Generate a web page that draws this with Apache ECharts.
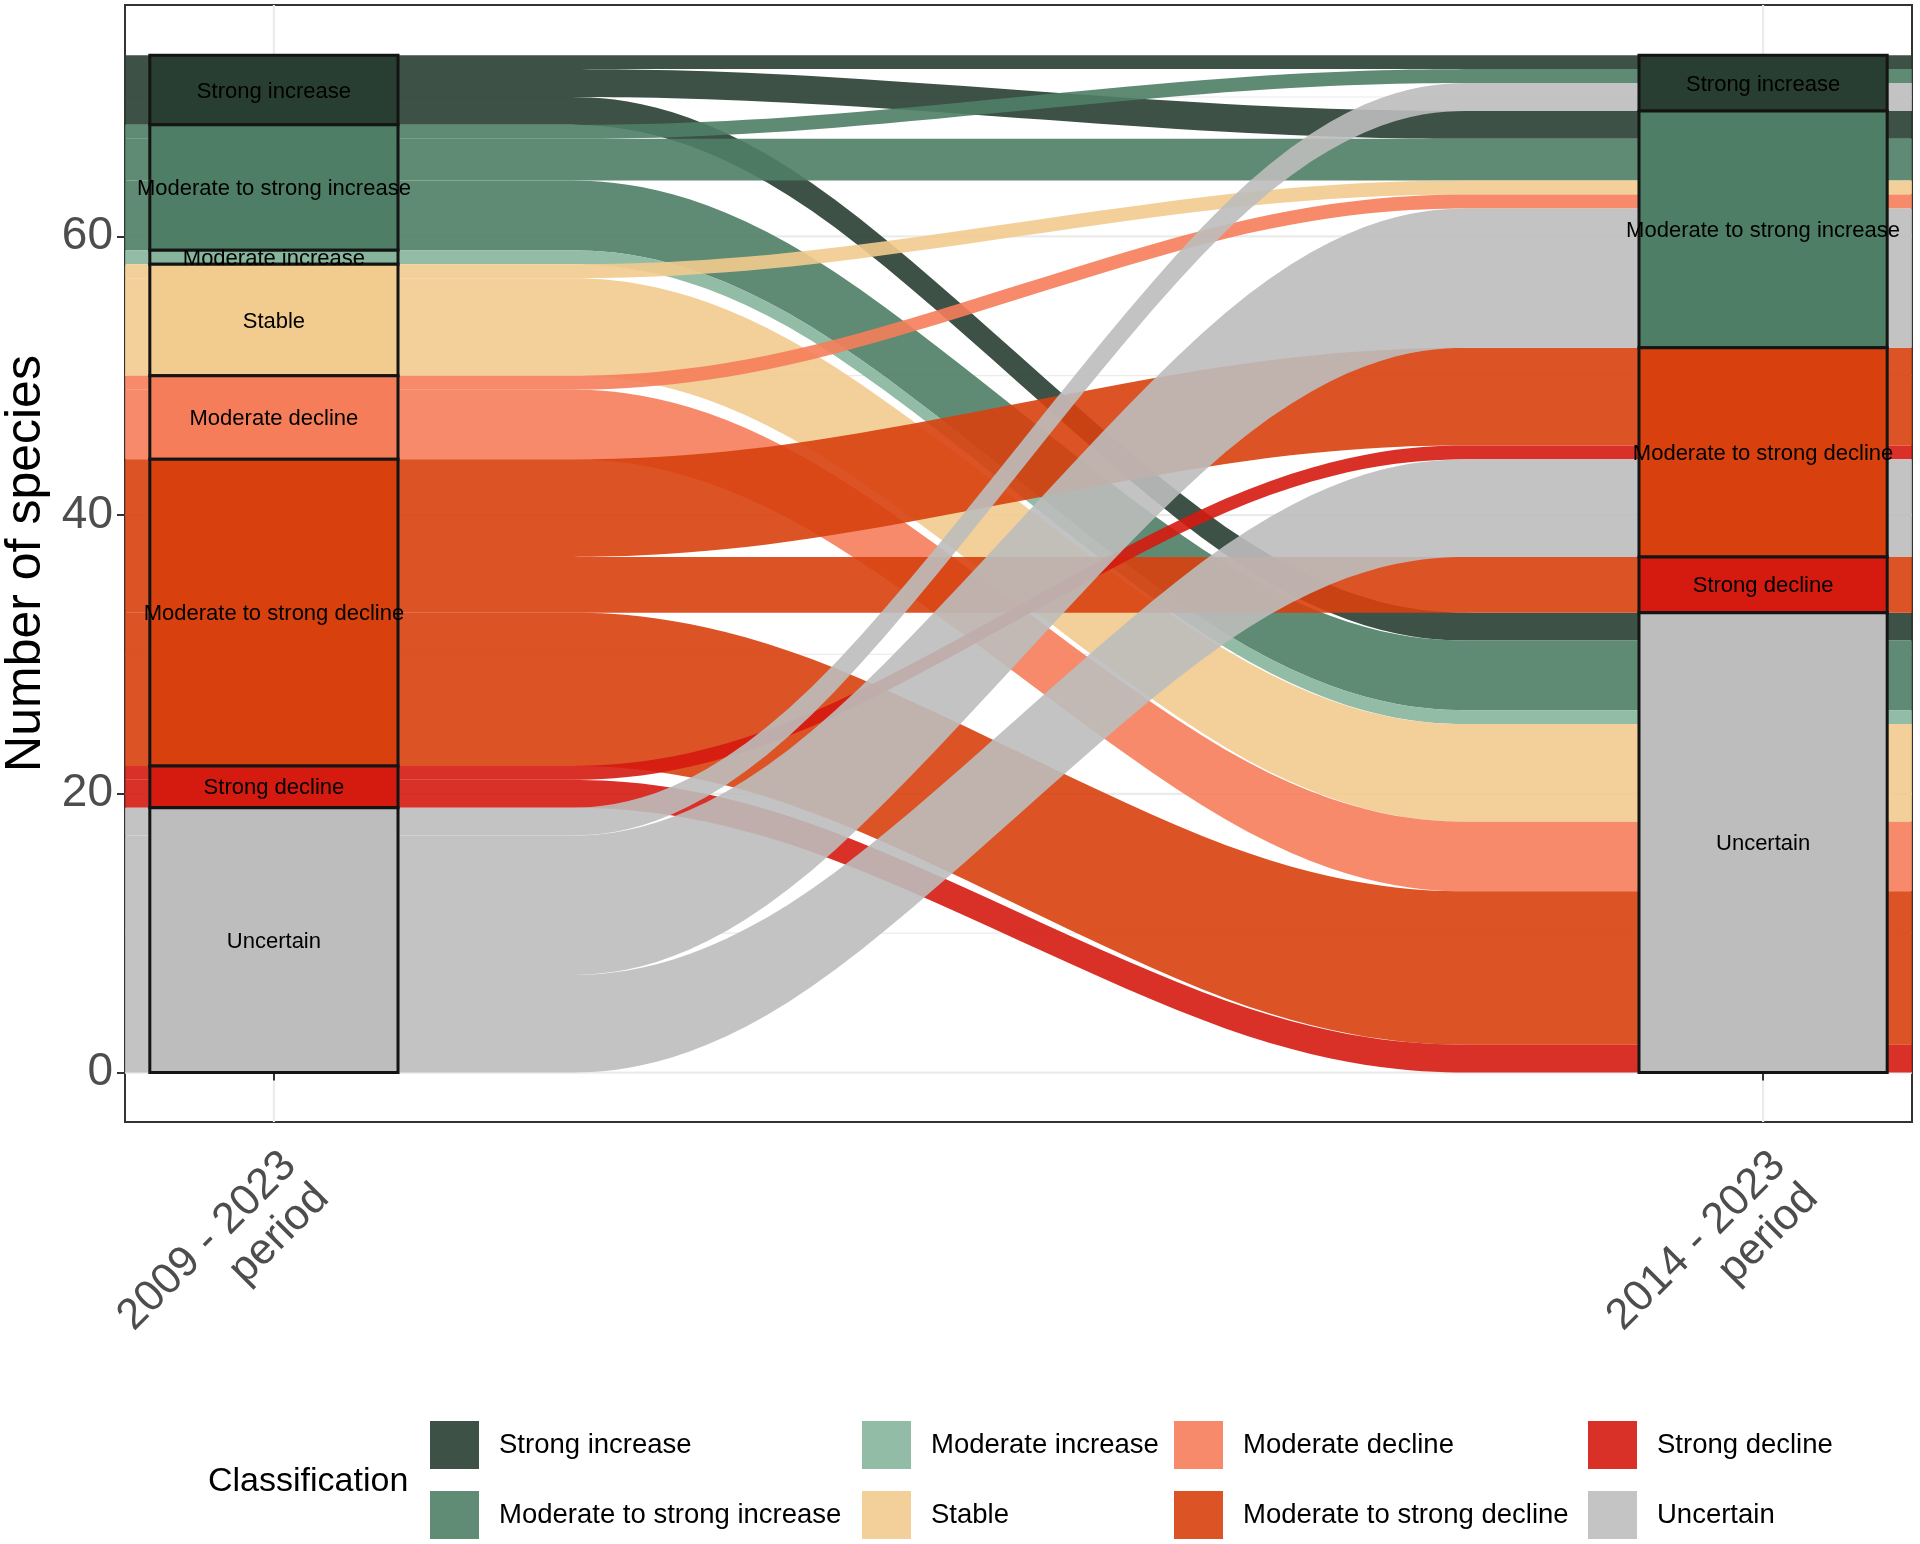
<!DOCTYPE html>
<html>
<head>
<meta charset="utf-8">
<script src="https://cdn.jsdelivr.net/npm/echarts@6/dist/echarts.min.js"></script>
<style>
  html, body { margin: 0; padding: 0; background: #fff; }
  #chart { width: 1920px; height: 1544px; }
</style>
</head>
<body>
<div id="chart"></div>
<script>
// ---------------- data ----------------
const classNames = ['Strong increase', 'Moderate to strong increase', 'Moderate increase', 'Stable',
  'Moderate decline', 'Moderate to strong decline', 'Strong decline', 'Uncertain'];
const classColors = ['#283E32', '#4E7E65', '#86B59C', '#F2CB8E', '#F57D5A', '#D8400E', '#D51A10', '#BDBDBD'];
const periodLabels = ['2009 - 2023\nperiod', '2014 - 2023\nperiod'];
// flows: class in 2009-2023 period -> class in 2014-2023 period, number of species
const flowFrom  = [0, 0, 0, 1, 1, 1, 2, 3, 3, 4, 4, 5, 5, 5, 6, 6, 7, 7, 7];
const flowTo    = [0, 1, 7, 0, 1, 7, 7, 1, 7, 1, 7, 5, 6, 7, 5, 7, 0, 1, 5];
const flowCount = [1, 2, 2, 1, 3, 5, 1, 1, 7, 1, 5, 7, 4, 11, 1, 2, 2, 10, 7];
const yTickValues = [0, 20, 40, 60];
const yMinorValues = [10, 30, 50, 70];
const xTickValues = [1, 2];

// ---------------- layout helpers ----------------
const FLOW_ALPHA = 0.9;
const ALLUVIUM_W = 1 / 3;
const STRATUM_W = 1 / 6;
const KNOT = 1 / 4;
const total = flowCount.reduce((a, b) => a + b, 0);

function stackSide(keyArr, otherArr) {
  const tot = classNames.map((_, c) => flowCount.reduce((s, v, i) => s + (keyArr[i] === c ? v : 0), 0));
  const strata = [];
  const lodes = new Array(flowCount.length);
  let top = total;
  classNames.forEach((_, c) => {
    if (tot[c] > 0) {
      strata.push({ cls: c, top: top, bottom: top - tot[c] });
      const idx = flowCount.map((_, i) => i).filter(i => keyArr[i] === c)
        .sort((a, b) => otherArr[a] - otherArr[b]);
      let t = top;
      idx.forEach(i => { lodes[i] = [t - flowCount[i], t]; t -= flowCount[i]; });
    }
    top -= tot[c];
  });
  return { strata, lodes };
}
const leftSide = stackSide(flowFrom, flowTo);
const rightSide = stackSide(flowTo, flowFrom);

function bspline(x0, y0, x1, y1) {
  const k = (x1 - x0) * KNOT;
  const P = [[x0, y0], [x0, y0], [x0, y0], [x0 + k, y0], [x1 - k, y1], [x1, y1], [x1, y1], [x1, y1]];
  const pts = [];
  const N = 16;
  for (let s = 0; s < P.length - 3; s++) {
    for (let j = 0; j < N; j++) {
      const t = j / N, t2 = t * t, t3 = t2 * t;
      const b0 = Math.pow(1 - t, 3) / 6, b1 = (3 * t3 - 6 * t2 + 4) / 6,
            b2 = (-3 * t3 + 3 * t2 + 3 * t + 1) / 6, b3 = t3 / 6;
      pts.push([
        b0 * P[s][0] + b1 * P[s + 1][0] + b2 * P[s + 2][0] + b3 * P[s + 3][0],
        b0 * P[s][1] + b1 * P[s + 1][1] + b2 * P[s + 2][1] + b3 * P[s + 3][1]
      ]);
    }
  }
  pts.push([x1, y1]);
  return pts;
}

function blendWhite(hex, a) {
  const n = parseInt(hex.slice(1), 16);
  const r = (n >> 16) & 255, g = (n >> 8) & 255, b = n & 255;
  const f = v => Math.round(a * v + (1 - a) * 255);
  return 'rgb(' + f(r) + ',' + f(g) + ',' + f(b) + ')';
}

const FONT = '"Liberation Sans", Arial, Helvetica, sans-serif';

// ---------------- series ----------------
const series = [];

function gridSeries(values, horizontal, width) {
  return {
    type: 'custom', silent: true, z: 0, clip: true,
    data: values.map(v => [v, v]),
    renderItem(params, api) {
      const cs = params.coordSys;
      const v = api.value(0);
      if (horizontal) {
        const y = api.coord([1.5, v])[1];
        return { type: 'line', shape: { x1: cs.x, y1: y, x2: cs.x + cs.width, y2: y },
          style: { stroke: '#EBEBEB', lineWidth: width } };
      }
      const x = api.coord([v, 0])[0];
      return { type: 'line', shape: { x1: x, y1: cs.y, x2: x, y2: cs.y + cs.height },
        style: { stroke: '#EBEBEB', lineWidth: width } };
    }
  };
}
series.push(gridSeries(yMinorValues, true, 1.2));
series.push(gridSeries(yTickValues, true, 2.2));
series.push(gridSeries(xTickValues, false, 2.2));

classNames.forEach((name, c) => {
  const idx = flowCount.map((_, i) => i).filter(i => flowFrom[i] === c);
  series.push({
    name: name,
    type: 'custom',
    z: 2,
    clip: true,
    itemStyle: { color: classColors[c], opacity: FLOW_ALPHA },
    data: idx.map(i => [i, i]),
    renderItem(params, api) {
      const i = api.value(0);
      const [a0, a1] = leftSide.lodes[i];
      const [b0, b1] = rightSide.lodes[i];
      const xs = 1 + ALLUVIUM_W / 2, xe = 2 - ALLUVIUM_W / 2;
      const topPts = [[1 - ALLUVIUM_W / 2, a1]].concat(bspline(xs, a1, xe, b1), [[2 + ALLUVIUM_W / 2, b1]]);
      const botPts = [[1 - ALLUVIUM_W / 2, a0]].concat(bspline(xs, a0, xe, b0), [[2 + ALLUVIUM_W / 2, b0]]);
      const pts = topPts.concat(botPts.reverse()).map(p => api.coord(p));
      return { type: 'polygon', shape: { points: pts },
        style: { fill: classColors[c], opacity: FLOW_ALPHA } };
    }
  });
});

const strataItems = [];
leftSide.strata.forEach(s => strataItems.push([1, s.bottom, s.top, s.cls]));
rightSide.strata.forEach(s => strataItems.push([2, s.bottom, s.top, s.cls]));

series.push({
  type: 'custom', z: 3, silent: true, clip: true,
  data: strataItems,
  renderItem(params, api) {
    const x = api.value(0), y0 = api.value(1), y1 = api.value(2), c = api.value(3);
    const p0 = api.coord([x - STRATUM_W / 2, y1]);
    const p1 = api.coord([x + STRATUM_W / 2, y0]);
    return { type: 'rect', shape: { x: p0[0], y: p0[1], width: p1[0] - p0[0], height: p1[1] - p0[1] },
      style: { fill: classColors[c], stroke: '#141414', lineWidth: 3 } };
  }
});
series.push({
  type: 'custom', z: 4, silent: true,
  data: strataItems,
  renderItem(params, api) {
    const x = api.value(0), y0 = api.value(1), y1 = api.value(2), c = api.value(3);
    const p = api.coord([x, (y0 + y1) / 2]);
    return { type: 'text', style: { text: classNames[c], x: p[0], y: p[1] + 1.5, align: 'center',
      verticalAlign: 'middle', fontSize: 22, fontFamily: FONT, fill: '#000' } };
  }
});

// ---------------- legends ----------------
const legendCols = [[0, 1], [2, 3], [4, 5], [6, 7]];
const legendLeft = [430, 862, 1174, 1588];
const legends = legendCols.map((col, k) => ({
  orient: 'vertical',
  left: legendLeft[k],
  top: 1421,
  padding: 0,
  itemWidth: 49,
  itemHeight: 48,
  itemGap: 22,
  icon: 'rect',
  selectedMode: false,
  textStyle: { fontSize: 27.5, color: '#000', fontFamily: FONT, padding: [4, 0, 0, 15] },
  data: col.map(c => ({ name: classNames[c], itemStyle: { color: blendWhite(classColors[c], FLOW_ALPHA), opacity: 1, borderWidth: 0 } }))
}));

const chart = echarts.init(document.getElementById('chart'), null, { renderer: 'canvas' });
chart.setOption({
  animation: false,
  backgroundColor: '#fff',
  textStyle: { fontFamily: FONT },
  grid: { left: 125, top: 5, width: 1787, height: 1117, show: true, borderColor: '#333', borderWidth: 2,
    backgroundColor: '#fff', containLabel: false, outerBoundsMode: 'none' },
  xAxis: {
    type: 'value', min: 0.9, max: 2.1,
    axisLine: { show: false },
    splitLine: { show: false },
    axisTick: { show: true, customValues: xTickValues, length: 8, lineStyle: { color: '#333', width: 2 } },
    axisLabel: { customValues: xTickValues, formatter: v => periodLabels[Math.round(v) - 1],
      rotate: 45, fontSize: 43.5, lineHeight: 46, color: '#4D4D4D', align: 'right', verticalAlign: 'top',
      margin: 20, padding: [0, 1, 0, 0] }
  },
  yAxis: {
    type: 'value', min: -3.55, max: 76.6,
    name: 'Number of species', nameLocation: 'middle', nameGap: 72, nameRotate: 90,
    nameTextStyle: { fontSize: 50, color: '#000', fontFamily: FONT },
    axisLine: { show: false },
    splitLine: { show: false },
    axisTick: { show: true, customValues: yTickValues, length: 8, lineStyle: { color: '#333', width: 2 } },
    axisLabel: { customValues: yTickValues, fontSize: 46, color: '#4D4D4D', margin: 12 }
  },
  legend: legends,
  graphic: [{ type: 'text', left: 208, top: 1465,
    style: { text: 'Classification', fontSize: 34, fontFamily: FONT, fill: '#000' } }],
  series: series
});
</script>
</body>
</html>
